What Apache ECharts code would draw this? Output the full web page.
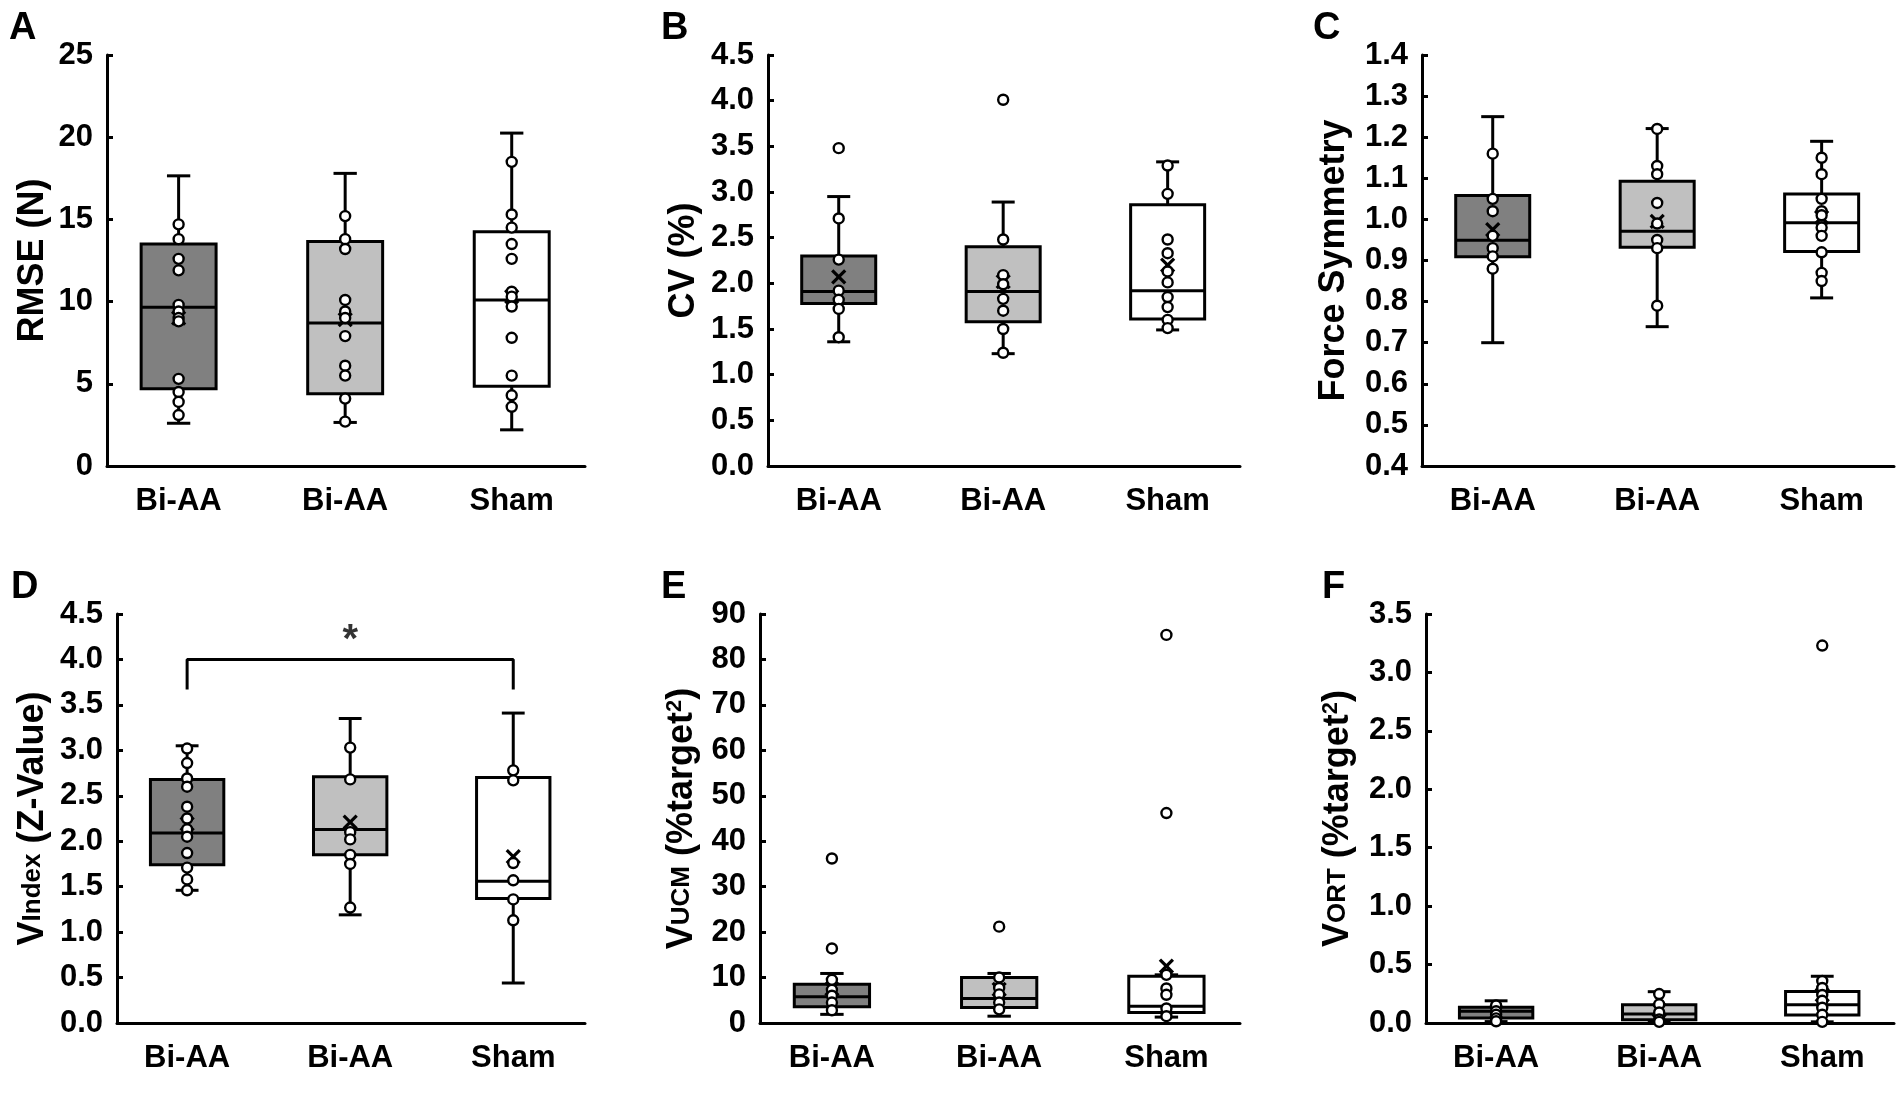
<!DOCTYPE html>
<html><head><meta charset="utf-8">
<script src="https://cdn.jsdelivr.net/npm/echarts@6/dist/echarts.min.js"></script>
<style>html,body{margin:0;padding:0;background:#fff}#c{width:1902px;height:1097px}</style>
</head><body><div id="c"></div>
<script>
// ---------- data ----------
const groups = ['Bi-AA', 'Bi-AA', 'Sham'];

// box stats per group: [whiskerLow, Q1, median, Q3, whiskerHigh]
const rmseBox = [[2.60, 4.70, 9.65, 13.50, 17.65], [2.65, 4.40, 8.70, 13.65, 17.80], [2.20, 4.85, 10.10, 14.25, 20.25]];
const rmseMean = [9.0, 8.9, 10.3];
const rmsePts = [
  [14.7, 13.8, 12.6, 11.9, 9.8, 9.4, 9.0, 8.8, 5.3, 4.5, 3.9, 3.1],
  [15.2, 13.8, 13.2, 10.1, 9.4, 9.0, 7.9, 6.1, 5.5, 4.1, 2.7],
  [18.5, 15.3, 14.5, 13.5, 12.6, 10.6, 10.3, 9.7, 7.8, 5.5, 4.3, 3.6]
];

const cvBox = [[1.36, 1.78, 1.91, 2.30, 2.95], [1.23, 1.58, 1.91, 2.40, 2.89], [1.49, 1.61, 1.92, 2.86, 3.33]];
const cvMean = [2.07, 2.02, 2.20];
const cvPts = [
  [3.48, 2.71, 2.26, 1.92, 1.82, 1.72, 1.41],
  [4.01, 2.48, 2.09, 1.99, 1.83, 1.70, 1.50, 1.24],
  [3.29, 2.98, 2.48, 2.33, 2.13, 2.01, 1.85, 1.74, 1.60, 1.51]
];

const symBox = [[0.700, 0.909, 0.949, 1.058, 1.250], [0.739, 0.932, 0.971, 1.093, 1.221], [0.809, 0.922, 0.992, 1.062, 1.190]];
const symMean = [0.975, 0.995, 1.005];
const symPts = [
  [1.16, 1.05, 1.02, 0.96, 0.93, 0.91, 0.88],
  [1.22, 1.13, 1.11, 1.04, 0.99, 0.95, 0.93, 0.79],
  [1.15, 1.11, 1.05, 1.02, 1.01, 0.98, 0.96, 0.92, 0.87, 0.85]
];

const vindexBox = [[1.46, 1.74, 2.09, 2.68, 3.05], [1.19, 1.85, 2.13, 2.71, 3.35], [0.44, 1.37, 1.56, 2.70, 3.41]];
const vindexMean = [2.19, 2.21, 1.83];
const vindexPts = [
  [3.02, 2.86, 2.69, 2.60, 2.38, 2.25, 2.13, 2.05, 1.87, 1.71, 1.58, 1.46],
  [3.03, 2.68, 2.10, 2.02, 1.85, 1.75, 1.27],
  [2.78, 2.67, 1.76, 1.57, 1.36, 1.13]
];
const sigBracket = [[0, 3.67], [0, 4.0], [2, 4.0], [2, 3.67]];
const sigStar = [[1, 4.2]];

const vucmBox = [[1.9, 3.6, 5.8, 8.5, 10.9], [1.5, 3.4, 5.4, 10.0, 10.9], [1.3, 2.3, 3.7, 10.3, 10.6]];
const vucmMean = [7.5, 7.4, 12.5];
const vucmPts = [
  [36.2, 16.4, 9.5, 7.3, 6.0, 4.5, 2.8],
  [21.2, 10.0, 7.7, 6.3, 4.5, 3.0],
  [85.4, 46.2, 10.6, 7.6, 6.2, 3.2, 1.5]
];

const vortBox = [[0.012, 0.043, 0.100, 0.134, 0.190], [0.008, 0.028, 0.077, 0.157, 0.268], [0.010, 0.068, 0.157, 0.270, 0.400]];
const vortMean = [0.09, 0.11, 0.24];
const vortPts = [
  [0.15, 0.10, 0.07, 0.04, 0.015],
  [0.248, 0.16, 0.09, 0.03, 0.01],
  [3.23, 0.36, 0.30, 0.24, 0.19, 0.13, 0.07, 0.01]
];

// y axis ranges [min, max, interval]
const rmseAxis = [0, 25, 5];
const cvAxis = [0, 4.5, 0.5];
const symAxis = [0.4, 1.4, 0.1];
const vindexAxis = [0, 4.5, 0.5];
const vucmAxis = [0, 90, 10];
const vortAxis = [0, 3.5, 0.5];

const panelLetters = ['A', 'B', 'C', 'D', 'E', 'F'];

// ---------- styling / layout ----------
const FONT = '"Liberation Sans", Arial, Helvetica, sans-serif';
const fills = ['#808080', '#c0c0c0', '#ffffff'];
const grids = [
  {left: 107, top: 55, width: 478, height: 411},
  {left: 768, top: 55, width: 472, height: 411},
  {left: 1422, top: 55, width: 472, height: 411},
  {left: 117, top: 614, width: 468, height: 409},
  {left: 760, top: 614, width: 480, height: 409},
  {left: 1426, top: 614, width: 468, height: 409}
];
const letterPos = [[9, 10], [661, 10], [1313, 10], [11, 569], [661, 569], [1322, 569]];

const panels = [
  {box: rmseBox, mean: rmseMean, pts: rmsePts, axis: rmseAxis, dec: 0, name: '{m|RMSE (N)}', gap: 56},
  {box: cvBox, mean: cvMean, pts: cvPts, axis: cvAxis, dec: 1, name: '{m|CV (%)}', gap: 66},
  {box: symBox, mean: symMean, pts: symPts, axis: symAxis, dec: 1, name: '{m|Force Symmetry}', gap: 70},
  {box: vindexBox, mean: vindexMean, pts: vindexPts, axis: vindexAxis, dec: 1, name: '{m|V}{s|Index}{m| (Z-Value)}', gap: 66},
  {box: vucmBox, mean: vucmMean, pts: vucmPts, axis: vucmAxis, dec: 0, name: '{m|V}{s|UCM}{m| (%target}{sup|2}{m|)}', gap: 60},
  {box: vortBox, mean: vortMean, pts: vortPts, axis: vortAxis, dec: 1, name: '{m|V}{s|ORT}{m| (%target}{sup|2}{m|)}', gap: 70}
];

const HALF_BOX = 0.225, HALF_CAP = 0.07;

function renderBox(params, api) {
  const x = api.value(0);
  const lo = api.coord([x, api.value(1)]);
  const q1 = api.coord([x, api.value(2)]);
  const md = api.coord([x, api.value(3)]);
  const q3 = api.coord([x, api.value(4)]);
  const hi = api.coord([x, api.value(5)]);
  const hw = api.size([HALF_BOX, 0])[0];
  const cw = api.size([HALF_CAP, 0])[0];
  const ls = {stroke: '#000', lineWidth: 3};
  return {
    type: 'group',
    children: [
      {type: 'line', shape: {x1: lo[0], y1: lo[1], x2: hi[0], y2: hi[1]}, style: ls},
      {type: 'line', shape: {x1: lo[0] - cw, y1: lo[1], x2: lo[0] + cw, y2: lo[1]}, style: ls},
      {type: 'line', shape: {x1: hi[0] - cw, y1: hi[1], x2: hi[0] + cw, y2: hi[1]}, style: ls},
      {type: 'rect', shape: {x: q3[0] - hw, y: q3[1], width: 2 * hw, height: q1[1] - q3[1]},
        style: {fill: fills[params.dataIndex], stroke: '#000', lineWidth: 3}},
      {type: 'line', shape: {x1: md[0] - hw, y1: md[1], x2: md[0] + hw, y2: md[1]}, style: ls}
    ]
  };
}
function renderMean(params, api) {
  const p = api.coord([api.value(0), api.value(1)]);
  const h = 6.5;
  const ls = {stroke: '#000', lineWidth: 3.2};
  return {
    type: 'group',
    children: [
      {type: 'line', shape: {x1: p[0] - h, y1: p[1] - h, x2: p[0] + h, y2: p[1] + h}, style: ls},
      {type: 'line', shape: {x1: p[0] - h, y1: p[1] + h, x2: p[0] + h, y2: p[1] - h}, style: ls}
    ]
  };
}

const option = {
  animation: false,
  backgroundColor: '#fff',
  textStyle: {fontFamily: FONT},
  title: panelLetters.map((t, i) => ({
    text: t, left: letterPos[i][0], top: letterPos[i][1], padding: 0,
    textStyle: {fontSize: 38, fontWeight: 'bold', color: '#000', fontFamily: FONT}
  })),
  grid: grids.map(g => Object.assign({containLabel: false}, g)),
  xAxis: panels.map((p, i) => ({
    type: 'value', gridIndex: i, min: -0.43, max: 2.44,
    axisLine: {show: true, onZero: false, lineStyle: {color: '#000', width: 3}},
    axisTick: {show: false},
    splitLine: {show: false},
    axisLabel: {
      customValues: [0, 1, 2],
      formatter: v => groups[Math.round(v)],
      fontSize: 31, fontWeight: 'bold', color: '#000', margin: 20, fontFamily: FONT
    }
  })),
  yAxis: panels.map((p, i) => ({
    type: 'value', gridIndex: i, min: p.axis[0], max: p.axis[1], interval: p.axis[2],
    axisLine: {show: true, onZero: false, lineStyle: {color: '#000', width: 3}},
    axisTick: {show: true, inside: true, length: 6, lineStyle: {color: '#000', width: 3}},
    splitLine: {show: false},
    axisLabel: {
      formatter: v => v.toFixed(p.dec),
      fontSize: 31, fontWeight: 'bold', color: '#000', margin: 14, fontFamily: FONT
    },
    name: p.name, nameLocation: 'middle', nameRotate: 90, nameGap: p.gap, nameMoveOverlap: false,
    nameTextStyle: {
      rich: {
        m: {fontSize: 36, fontWeight: 'bold', color: '#000', fontFamily: FONT},
        s: {fontSize: 26, fontWeight: 'bold', color: '#000', fontFamily: FONT},
        sup: {fontSize: 22, fontWeight: 'bold', color: '#000', fontFamily: FONT, verticalAlign: 'top', padding: [0, 0, 12, 0]}
      }
    }
  })),
  series: []
};

panels.forEach((p, i) => {
  option.series.push({
    type: 'custom', xAxisIndex: i, yAxisIndex: i, z: 2,
    renderItem: renderBox,
    encode: {x: 0, y: [1, 2, 3, 4, 5]},
    data: p.box.map((b, g) => [g].concat(b))
  });
  option.series.push({
    type: 'custom', xAxisIndex: i, yAxisIndex: i, z: 3,
    renderItem: renderMean,
    encode: {x: 0, y: 1},
    data: p.mean.map((m, g) => [g, m])
  });
  const pts = [];
  p.pts.forEach((arr, g) => arr.forEach(v => pts.push([g, v])));
  option.series.push({
    type: 'scatter', xAxisIndex: i, yAxisIndex: i, z: 4,
    symbol: 'circle', symbolSize: 10,
    itemStyle: {color: '#fff', borderColor: '#000', borderWidth: 2.4, opacity: 1},
    data: pts
  });
});

// significance bracket on panel D
option.series.push({
  type: 'line', xAxisIndex: 3, yAxisIndex: 3, z: 5,
  symbol: 'none', data: sigBracket,
  lineStyle: {color: '#000', width: 3}
});
option.series.push({
  type: 'scatter', xAxisIndex: 3, yAxisIndex: 3, z: 5,
  symbolSize: 1, itemStyle: {color: 'rgba(0,0,0,0)'},
  label: {show: true, position: 'inside', formatter: '*', fontSize: 40, fontWeight: 'bold', color: '#000', fontFamily: FONT},
  data: sigStar
});

const chart = echarts.init(document.getElementById('c'), null, {renderer: 'canvas', width: 1902, height: 1097});
chart.setOption(option);
</script>
</body></html>
